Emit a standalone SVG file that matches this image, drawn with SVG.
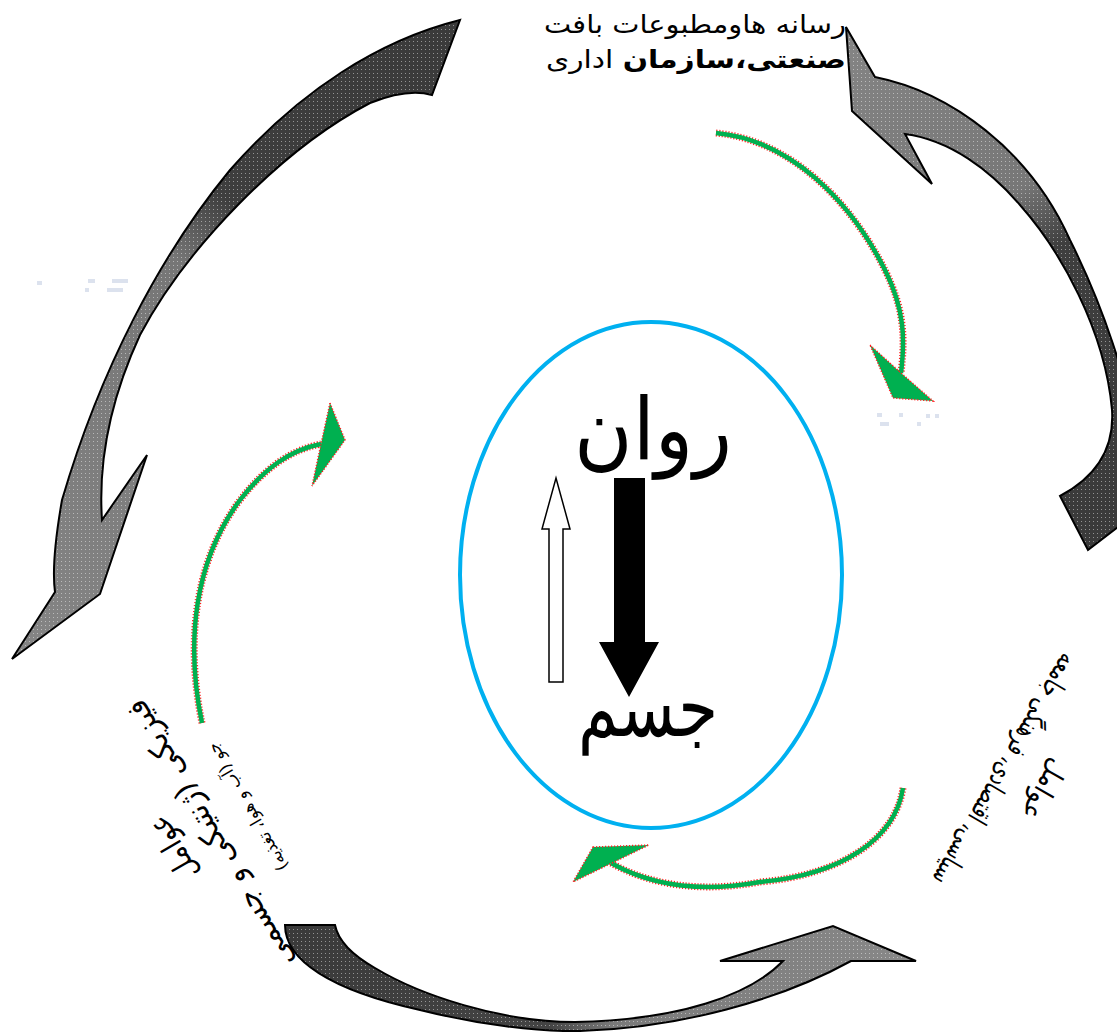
<svg xmlns="http://www.w3.org/2000/svg" width="1117" height="1032" viewBox="0 0 1117 1032">
<defs>
<style>
.ar{font-family:"DejaVu Sans",sans-serif;fill:#000}
.dots{fill:url(#dots);stroke:#000;stroke-width:2;stroke-linejoin:miter}
.gsh{fill:none;stroke:#00b050;stroke-width:4.5}
.gred{fill:none;stroke:#ff2020;stroke-width:7;stroke-dasharray:1.2 1.8}
.ghead{fill:#00b050;stroke:#ff2020;stroke-width:1.5;stroke-dasharray:1.2 1.8}
.faint{fill:#dce2ee}
</style>
<pattern id="dots" width="4" height="4" patternUnits="userSpaceOnUse"><rect x="1" y="1" width="1" height="1" fill="#fff" fill-opacity="0.45"/></pattern>
<linearGradient id="gA" gradientUnits="userSpaceOnUse" x1="460" y1="20" x2="12" y2="659">
<stop offset="0" stop-color="#3a3a3a"/><stop offset="0.36" stop-color="#3e3e3e"/><stop offset="0.46" stop-color="#767676"/><stop offset="1" stop-color="#858585"/>
</linearGradient>
<linearGradient id="gB" gradientUnits="userSpaceOnUse" x1="846" y1="27" x2="1088" y2="550">
<stop offset="0" stop-color="#858585"/><stop offset="0.38" stop-color="#777"/><stop offset="0.5" stop-color="#3e3e3e"/><stop offset="1" stop-color="#3a3a3a"/>
</linearGradient>
<linearGradient id="gC" gradientUnits="userSpaceOnUse" x1="285" y1="0" x2="916" y2="0">
<stop offset="0" stop-color="#3a3a3a"/><stop offset="0.42" stop-color="#444"/><stop offset="0.52" stop-color="#7a7a7a"/><stop offset="1" stop-color="#888"/>
</linearGradient>
<path id="pA" d="M460,20 C380,40 300,90 230,170 C160,255 100,370 62,500 C55,540 52,570 55,592 L12,659 L100,594 L147,455 L102,520 C98,460 110,400 140,335 C185,250 280,150 370,103 C395,93 415,90 432,95 Z"/>
<path id="pB" d="M846,27 L875,77 C950,92 1030,150 1070,240 C1100,300 1130,380 1140,460 L1140,510 L1088,550 L1060,496 C1090,480 1115,455 1112,410 C1105,330 1060,250 1020,205 C990,170 950,140 905,134 L932,184 L852,111 Z"/>
<path id="pC" d="M285,925 C285,960 330,990 420,1010 C480,1025 540,1032 580,1031 C680,1028 780,1000 851,961 L916,961 L833,926 L720,961 L783,961 C750,995 680,1020 575,1022 C500,1022 420,995 375,968 C352,955 338,940 335,925 Z"/>
</defs>
<rect width="1117" height="1032" fill="#fff"/>

<g id="faint-marks">
<rect class="faint" x="37" y="281" width="5" height="4"/>
<rect class="faint" x="85" y="288" width="4" height="4"/>
<rect class="faint" x="88" y="279" width="7" height="4"/>
<rect class="faint" x="107" y="288" width="16" height="4"/>
<rect class="faint" x="112" y="279" width="16" height="4"/>
<rect class="faint" x="877" y="413" width="5" height="4"/>
<rect class="faint" x="880" y="422" width="9" height="4"/>
<rect class="faint" x="899" y="413" width="4" height="4"/>
<rect class="faint" x="917" y="422" width="4" height="4"/>
<rect class="faint" x="926" y="414" width="4" height="4"/>
<rect class="faint" x="935" y="414" width="4" height="4"/>
</g>

<g id="connectors">
<g id="cycle-arrow-top-left"><use href="#pA" fill="url(#gA)"/><use href="#pA" class="dots"/></g>
<g id="cycle-arrow-right"><use href="#pB" fill="url(#gB)"/><use href="#pB" class="dots"/></g>
<g id="cycle-arrow-bottom"><use href="#pC" fill="url(#gC)"/><use href="#pC" class="dots"/></g>

<g id="green-arrow-top">
<path class="gred" d="M716,133 C790,140 850,200 885,270 C905,310 905,340 901,373"/>
<path class="gsh" d="M716,133 C790,140 850,200 885,270 C905,310 905,340 901,373"/>
<polygon class="ghead" points="870,345 901,373 933,401 893,398"/>
</g>
<g id="green-arrow-left">
<path class="gred" d="M202,723 C185,640 195,560 240,500 C265,468 290,450 321,444"/>
<path class="gsh" d="M202,723 C185,640 195,560 240,500 C265,468 290,450 321,444"/>
<polygon class="ghead" points="330,403 345,440 312,486 321,444"/>
</g>
<g id="green-arrow-bottom">
<path class="gred" d="M903,788 C895,840 840,875 760,882 C700,893 650,885 611,863"/>
<path class="gsh" d="M903,788 C895,840 840,875 760,882 C700,893 650,885 611,863"/>
<polygon class="ghead" points="593,847 649,845 612,863 573,882"/>
</g>

<g id="arrow-psyche-to-body">
<polygon points="614,478 645,478 645,642 659,642 629,697 599,642 614,642" fill="#000"/>
</g>
<g id="arrow-body-to-psyche">
<polygon points="549,682 563,682 563,529 570,529 556,478 542,529 549,529" fill="#fff" stroke="#000" stroke-width="1.5"/>
</g>
</g>

<g id="node-center">
<ellipse cx="651" cy="575" rx="191" ry="253" fill="none" stroke="#00b0f0" stroke-width="4"/>
<text class="ar" x="653" y="459" font-size="86" text-anchor="middle" textLength="158" lengthAdjust="spacingAndGlyphs">روان</text>
<text class="ar" x="648" y="736" font-size="82" text-anchor="middle" textLength="140" lengthAdjust="spacingAndGlyphs">جسم</text>
</g>

<g id="node-top">
<text class="ar" x="846" y="33" font-size="25" text-anchor="end" textLength="302" lengthAdjust="spacingAndGlyphs">رسانه هاومطبوعات بافت</text>
<text class="ar" x="846" y="68" font-size="25" text-anchor="end" textLength="300" lengthAdjust="spacingAndGlyphs"><tspan font-weight="bold">صنعتی،سازمان</tspan> اداری</text>
</g>

<g id="node-left">
<g transform="translate(173,848) rotate(-120)"><text class="ar" x="0" y="10" font-size="30" text-anchor="middle" textLength="70" lengthAdjust="spacingAndGlyphs">عوامل</text></g>
<g transform="translate(210,834) rotate(-120)"><text class="ar" x="0" y="10" font-size="30" text-anchor="middle" textLength="305" lengthAdjust="spacingAndGlyphs">فیزیکی (ژنتیکی و جسمی</text></g>
<g transform="translate(247,807) rotate(-120)"><text class="ar" x="0" y="6" font-size="17" text-anchor="middle" textLength="145" lengthAdjust="spacingAndGlyphs">جو (آب و هوا، تغذیه)</text></g>
</g>

<g id="node-right">
<g transform="translate(1045,790) rotate(120)"><text class="ar" x="0" y="10" font-size="28" text-anchor="middle" textLength="65" lengthAdjust="spacingAndGlyphs">عوامل</text></g>
<g transform="translate(1006,770) rotate(120)"><text class="ar" x="0" y="10" font-size="28" text-anchor="middle" textLength="262" lengthAdjust="spacingAndGlyphs">سیاسی، اقتصادی، فرهنگی جامعه</text></g>
</g>
</svg>
